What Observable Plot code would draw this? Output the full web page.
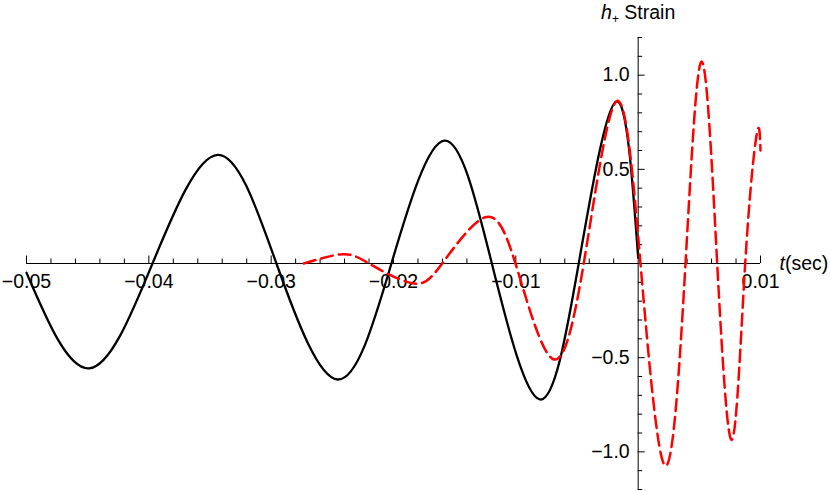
<!DOCTYPE html>
<html><head><meta charset="utf-8">
<script src="https://cdn.jsdelivr.net/npm/d3@7"></script>
<script src="https://cdn.jsdelivr.net/npm/@observablehq/plot@0.6"></script>
<style>body{margin:0;background:#fff;} #chart svg{display:block;}</style>
</head><body><div id="chart"></div>
<script>
// Post-Newtonian (black, solid) waveform: extrema and zero crossings
const blackT = [-0.05, -0.0449, -0.0397, -0.03437, -0.02957, -0.02455, -0.02017, -0.01583, -0.01196, -0.00804, -0.00486, -0.00177, 0];
const blackV = [-0.049, -0.557, 0, 0.577, 0, -0.616, 0, 0.652, 0, -0.722, 0, 0.861, 0.03];
// Numerical (red, dashed) waveform
const redT = [-0.02734, -0.0242, -0.02201, -0.01847, -0.01602, -0.01256, -0.01003, -0.00703, -0.00445, -0.00177, 0.00019, 0.00223, 0.00387, 0.0052, 0.00646, 0.00768, 0.00875, 0.0097, 0.01];
const redV = [0, 0.049, 0, -0.105, 0, 0.244, 0, -0.505, 0, 0.861, 0, -1.074, 0, 1.072, 0, -0.935, 0, 0.69, 0.6];

const xTicks = [-0.05, -0.04, -0.03, -0.02, -0.01, 0.01];
const xTickLabels = ["\u22120.05", "\u22120.04", "\u22120.03", "\u22120.02", "\u22120.01", "0.01"];
const yTicks = [-1.0, -0.5, 0.5, 1.0];
const yTickLabels = ["\u22121.0", "\u22120.5", "0.5", "1.0"];
const xAxisLabel = "t(sec)";
const yAxisLabel = "h+ Strain";

const W = 830, H = 491, mL = 26, mR = 70, mT = 37, mB = 2;
const xDomain = [-0.05, 0.01], yDomain = [-1.2, 1.2];
const pxPerX = (W - mL - mR) / (xDomain[1] - xDomain[0]);
const pxPerY = (H - mT - mB) / (yDomain[1] - yDomain[0]);

const black = blackT.map((t, i) => ({t, v: blackV[i]}));
const red = redT.map((t, i) => ({t, v: redV[i]}));
const xMinor = d3.range(-25, 6).map(i => +(i * 0.002).toFixed(3))
  .filter(v => v !== 0 && !xTicks.some(m => Math.abs(m - v) < 1e-9));
const yMinor = d3.range(-12, 13).map(i => +(i * 0.1).toFixed(1))
  .filter(v => v !== 0 && !yTicks.some(m => Math.abs(m - v) < 1e-9));
const xLab = xTicks.map((t, i) => ({t, s: xTickLabels[i]}));
const yLab = yTicks.map((v, i) => ({v, s: yTickLabels[i]}));

const font = "'Liberation Sans', Arial, Helvetica, sans-serif";
const fs = 19.5;

const chart = Plot.plot({
  width: W, height: H,
  marginLeft: mL, marginRight: mR, marginTop: mT, marginBottom: mB,
  x: {domain: xDomain, axis: null},
  y: {domain: yDomain, axis: null},
  style: {fontFamily: font, fontSize: fs + "px", background: "#fff", color: "#000", overflow: "visible"},
  marks: [
    Plot.ruleY([0], {stroke: "#000", strokeWidth: 1}),
    Plot.ruleX([0], {stroke: "#000", strokeWidth: 1}),
    Plot.ruleX(xTicks, {x: d => d, y1: 0, y2: 7.5 / pxPerY, stroke: "#000", strokeWidth: 1}),
    Plot.ruleX(xMinor, {x: d => d, y1: 0, y2: 4.5 / pxPerY, stroke: "#000", strokeWidth: 1}),
    Plot.ruleY(yTicks, {y: d => d, x1: 0, x2: 7 / pxPerX, stroke: "#000", strokeWidth: 1}),
    Plot.ruleY(yMinor, {y: d => d, x1: 0, x2: 4.5 / pxPerX, stroke: "#000", strokeWidth: 1}),
    Plot.text(xLab, {x: "t", y: d => 0, text: "s", dy: 18.5, fill: "#000", fontSize: fs}),
    Plot.text(yLab, {x: d => 0, y: "v", text: "s", dx: -8.5, textAnchor: "end", fill: "#000", fontSize: fs}),
    Plot.text([{t: xDomain[1], s: xAxisLabel}], {x: "t", y: d => 0, text: "s", dx: 19, textAnchor: "start", fill: "#000", fontSize: fs}),
    Plot.text([{t: 0, s: yAxisLabel}], {x: "t", y: d => yDomain[1], text: "s", dy: -25, textAnchor: "middle", fill: "#000", fontSize: fs}),
    Plot.line(black, {x: "t", y: "v", curve: "natural", stroke: "#000", strokeWidth: 2.3}),
    Plot.line(red, {x: "t", y: "v", curve: "natural", stroke: "#ff0000", strokeWidth: 2.5, strokeDasharray: "12,6"})
  ]
});
document.getElementById("chart").appendChild(chart);

// Italic variables and subscript in the axis labels
const NS = "http://www.w3.org/2000/svg";
function styled(el, parts) {
  el.textContent = "";
  for (const p of parts) {
    const ts = document.createElementNS(NS, "tspan");
    ts.textContent = p.text;
    if (p.italic) ts.setAttribute("font-style", "italic");
    if (p.size) ts.setAttribute("font-size", p.size);
    if (p.dy) ts.setAttribute("dy", p.dy);
    el.appendChild(ts);
  }
}
chart.querySelectorAll("text").forEach(el => {
  if (el.textContent === xAxisLabel) styled(el, [{text: "t", italic: true}, {text: "(sec)"}]);
  if (el.textContent === yAxisLabel) styled(el, [{text: "h", italic: true}, {text: "+", size: 12, dy: 4}, {text: " Strain", dy: -4}]);
});
</script>
</body></html>
